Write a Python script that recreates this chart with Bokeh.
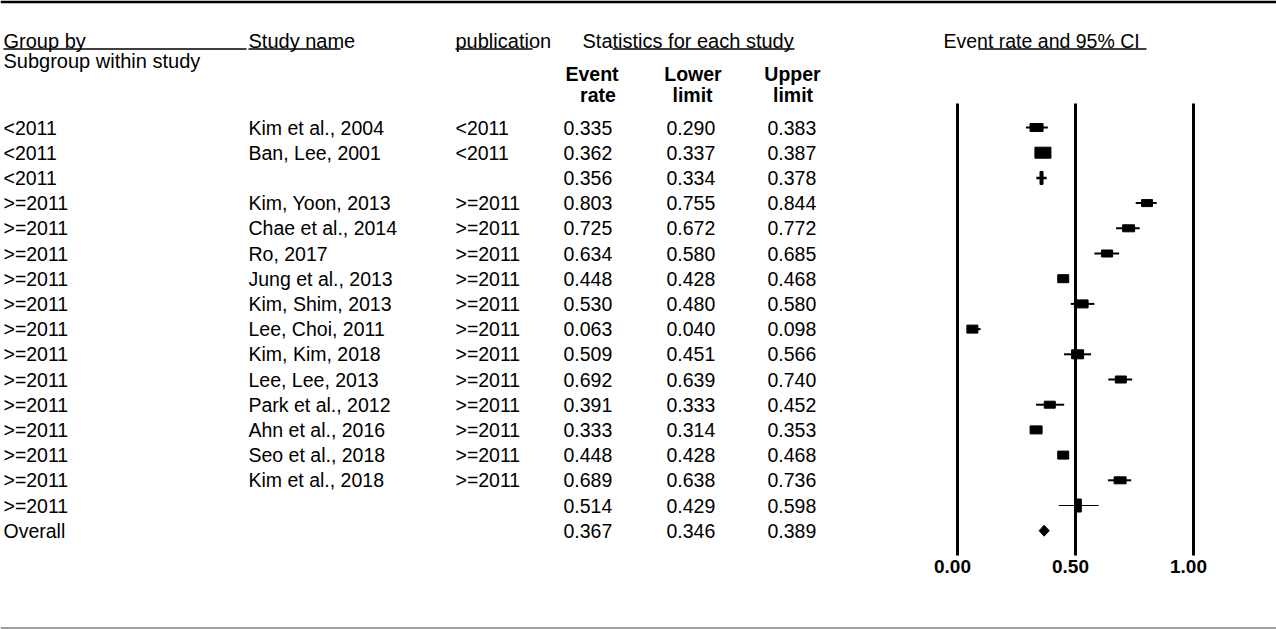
from bokeh.plotting import figure
from bokeh.models import Range1d, ColumnDataSource
from bokeh.core.properties import value
from bokeh.embed import file_html
from bokeh.resources import INLINE

# ---------------- data ----------------
groups = ["<2011", "<2011", "<2011", ">=2011", ">=2011", ">=2011", ">=2011", ">=2011",
          ">=2011", ">=2011", ">=2011", ">=2011", ">=2011", ">=2011", ">=2011", ">=2011", "Overall"]
studies = ["Kim et al., 2004", "Ban, Lee, 2001", "", "Kim, Yoon, 2013", "Chae et al., 2014",
           "Ro, 2017", "Jung et al., 2013", "Kim, Shim, 2013", "Lee, Choi, 2011", "Kim, Kim, 2018",
           "Lee, Lee, 2013", "Park et al., 2012", "Ahn et al., 2016", "Seo et al., 2018",
           "Kim et al., 2018", "", ""]
publication = ["<2011", "<2011", "", ">=2011", ">=2011", ">=2011", ">=2011", ">=2011", ">=2011",
               ">=2011", ">=2011", ">=2011", ">=2011", ">=2011", ">=2011", "", ""]
event_rate = [0.335, 0.362, 0.356, 0.803, 0.725, 0.634, 0.448, 0.530, 0.063, 0.509, 0.692,
              0.391, 0.333, 0.448, 0.689, 0.514, 0.367]
lower_limit = [0.290, 0.337, 0.334, 0.755, 0.672, 0.580, 0.428, 0.480, 0.040, 0.451, 0.639,
               0.333, 0.314, 0.428, 0.638, 0.429, 0.346]
upper_limit = [0.383, 0.387, 0.378, 0.844, 0.772, 0.685, 0.468, 0.580, 0.098, 0.566, 0.740,
               0.452, 0.353, 0.468, 0.736, 0.598, 0.389]
row_kind = ["study", "study", "subtotal"] + ["study"] * 12 + ["subtotal", "overall"]
tick_values = [0.0, 0.5, 1.0]
tick_labels = ["0.00", "0.50", "1.00"]

# ---------------- styles / layout ----------------
W, H = 1276, 629
ROW0, ROWH = 127.0, 25.2          # px of first row centre and row pitch
PX0, PXS = 957.0, 236.0           # px of rate 0 and px per unit of rate

box_w = [13, 16, 11, 12, 11, 11, 11, 11, 12, 11, 11, 12, 11, 12]
box_h = [8, 11, 7, 7, 7, 8, 8, 8, 9, 7, 7, 8, 8, 7]

FONT = value("Liberation Sans")
INK = "#000000"

def row_of(py):
    return (py - ROW0) / ROWH

p = figure(width=W, height=H, output_backend="svg", toolbar_location=None,
           x_axis_type=None, y_axis_type=None, min_border=0,
           x_range=Range1d(0, W), y_range=Range1d(H, 0))
p.outline_line_color = None
p.background_fill_color = "white"
p.border_fill_color = "white"
p.extra_x_ranges = {"rate": Range1d((0 - PX0) / PXS, (W - PX0) / PXS)}
p.extra_y_ranges = {"row": Range1d(row_of(H), row_of(0))}

n = len(event_rate)
rows = list(range(n))

# ---- rules ----
p.segment(x0=[0], y0=[1.4], x1=[W], y1=[1.4], line_color="black", line_width=2.8)
p.segment(x0=[0], y0=[627.5], x1=[W], y1=[627.5], line_color="#808080", line_width=1.5)

# ---- headers ----
def htext(x, y, t, bold=False, align="left", size="20px"):
    p.text(x=[x], y=[y], text=[t], text_font=FONT, text_font_size=size,
           text_font_style="bold" if bold else "normal", text_align=align,
           text_baseline="middle", text_color=INK)

htext(3, 40, "Group by")
htext(3, 60, "Subgroup within study")
htext(248, 40, "Study name")
htext(455, 40, "publication")
htext(582, 40, "Statistics for each study")
htext(943, 40, "Event rate and 95% CI", size="19.5px")
for cx1, cx2, l1, l2 in [(591.5, 597.5, "Event", "rate"), (692.5, 692, "Lower", "limit"),
                         (792, 792.5, "Upper", "limit")]:
    htext(cx1, 73, l1, bold=True, align="center", size="19.5px")
    htext(cx2, 94.5, l2, bold=True, align="center", size="19.5px")

ul_x0 = [3, 248, 455, 612, 978]
ul_x1 = [246, 340, 532, 794, 1146]
p.segment(x0=ul_x0, y0=[48.5] * 5, x1=ul_x1, y1=[48.5] * 5, line_color=INK, line_width=1.5)

# ---- table text ----
def col(x, texts):
    p.text(x=[x] * len(texts), y=rows, text=texts, y_range_name="row",
           text_font=FONT, text_font_size="19.5px", text_baseline="middle",
           text_align="left", text_color=INK)

col(3, groups)
col(248, studies)
col(455, publication)
col(563, [f"{v:.3f}" for v in event_rate])
col(666, [f"{v:.3f}" for v in lower_limit])
col(767, [f"{v:.3f}" for v in upper_limit])

# ---- forest plot ----
p.segment(x0=tick_values, y0=[row_of(103)] * 3, x1=tick_values, y1=[row_of(555)] * 3,
          x_range_name="rate", y_range_name="row", line_color="black", line_width=3)
p.text(x=tick_values, y=[row_of(566)] * 3, text=tick_labels, x_range_name="rate",
       y_range_name="row", text_font=FONT, text_font_size="19px",
       text_font_style="bold", text_align="center", text_baseline="middle",
       x_offset=-5, text_color=INK)

st = [i for i in rows if row_kind[i] == "study"]
src = ColumnDataSource(dict(
    x=[event_rate[i] for i in st], y=st,
    lo=[lower_limit[i] for i in st], hi=[upper_limit[i] for i in st],
    w=box_w, h=box_h))
p.segment(x0="lo", y0="y", x1="hi", y1="y", source=src, x_range_name="rate",
          y_range_name="row", line_color="black", line_width=2)
p.rect(x="x", y="y", width="w", height="h", width_units="screen", height_units="screen",
       source=src, x_range_name="rate", y_range_name="row",
       fill_color="black", line_color="black")

sub = [i for i in rows if row_kind[i] == "subtotal"]
p.segment(x0=[lower_limit[i] for i in sub], y0=sub, x1=[upper_limit[i] for i in sub], y1=sub,
          x_range_name="rate", y_range_name="row", line_color="black", line_width=[2.5, 1])
p.rect(x=[event_rate[i] for i in sub], y=sub, width=[3, 5], height=[13, 13],
       width_units="screen", height_units="screen", x_range_name="rate",
       y_range_name="row", fill_color="black", line_color="black")

ov = [i for i in rows if row_kind[i] == "overall"][0]
dh = 5.5 / ROWH
p.patch(x=[lower_limit[ov], event_rate[ov], upper_limit[ov], event_rate[ov]],
        y=[ov, ov - dh, ov, ov + dh], x_range_name="rate", y_range_name="row",
        fill_color="black", line_color="black")

open("out.html", "w").write(file_html(p, INLINE))
